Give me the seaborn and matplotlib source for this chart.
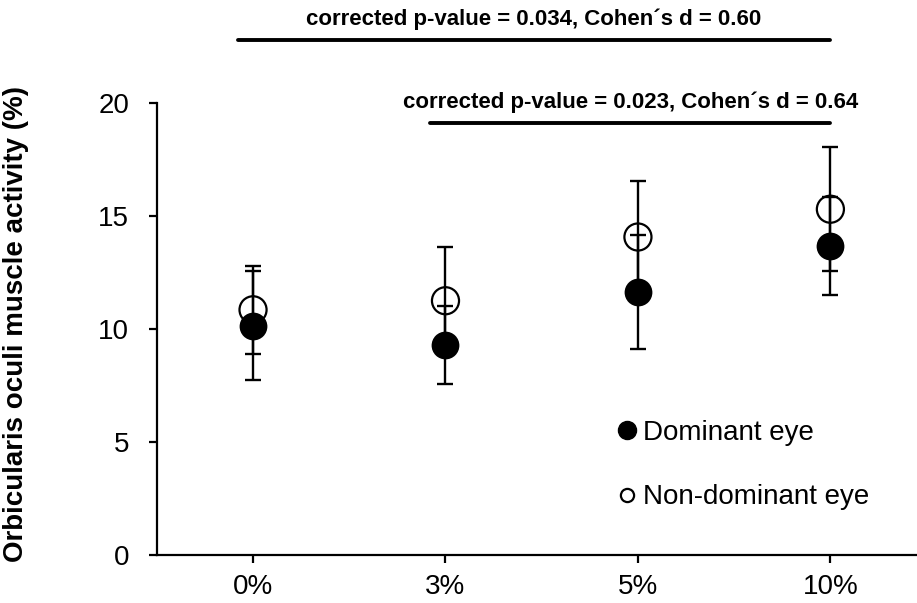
import numpy as np
import pandas as pd
import matplotlib
matplotlib.use("Agg")
import matplotlib.pyplot as plt
from matplotlib.lines import Line2D
import seaborn as sns

# values
conditions = ["0%", "3%", "5%", "10%"]
dominant_mean = [10.15, 9.3, 11.65, 13.67]
dominant_sd = [2.4, 1.72, 2.53, 2.15]
nondominant_mean = [10.85, 11.25, 14.07, 15.3]
nondominant_sd = [1.95, 2.4, 2.48, 2.75]

comparisons = [
    ("0%", "10%", 22.8, "corrected p-value = 0.034, Cohen\u00b4s d = 0.60"),
    ("3%", "10%", 19.1, "corrected p-value = 0.023, Cohen\u00b4s d = 0.64"),
]

sns.set_style("ticks")
plt.rcParams["font.family"] = ["Liberation Sans", "DejaVu Sans"]
plt.rcParams["text.color"] = "black"
plt.rcParams["axes.labelcolor"] = "black"

dom = pd.DataFrame({"condition": conditions, "mean": dominant_mean, "sd": dominant_sd})
nondom = pd.DataFrame({"condition": conditions, "mean": nondominant_mean, "sd": nondominant_sd})

fig = plt.figure(figsize=(9.17, 6.03), dpi=100)
ax = fig.add_axes([0.171, 0.0796, 0.829, 0.7496])

xpos = np.arange(len(conditions))

# open circles first, then error bars, then filled circles on top
sns.scatterplot(data=nondom, x="condition", y="mean", ax=ax, s=380, marker="o",
                facecolor="none", edgecolor="black", linewidth=1.6, zorder=2)
ax.errorbar(xpos, nondom["mean"], yerr=nondom["sd"], fmt="none", ecolor="black",
            elinewidth=1.7, capsize=6, capthick=1.7, zorder=3)
ax.errorbar(xpos, dom["mean"], yerr=dom["sd"], fmt="none", ecolor="black",
            elinewidth=1.7, capsize=6, capthick=1.7, zorder=3)
sns.scatterplot(data=dom, x="condition", y="mean", ax=ax, s=400, marker="o",
                color="black", edgecolor="black", linewidth=0, zorder=4)

ax.set_xlim(-0.5, 3.45)
ax.set_ylim(0, 20)
ax.set_yticks([0, 5, 10, 15, 20])
ax.set_xticks(xpos)
ax.set_xticklabels(conditions)
ax.tick_params(axis="both", labelsize=20, length=6, width=1.6, direction="out", colors="black")
ax.tick_params(axis="x", pad=8)
ax.tick_params(axis="y", pad=14)
ax.set_xlabel("")
ax.set_ylabel("Orbicularis oculi muscle activity (%)", fontsize=20, fontweight="bold")
ax.yaxis.set_label_coords(-0.168, 0.51)
sns.despine(ax=ax)
for side in ["left", "bottom"]:
    ax.spines[side].set_linewidth(1.6)
    ax.spines[side].set_color("black")

# significance brackets above the plot
for start, end, level, label in comparisons:
    x0 = conditions.index(start) - 0.08
    x1 = conditions.index(end)
    ax.plot([x0, x1], [level, level], color="black", linewidth=2.8, clip_on=False)
    ax.text((x0 + x1) / 2, level + 0.45, label, ha="center", va="bottom",
            fontsize=16, fontweight="bold", color="black", clip_on=False)

handles = [
    Line2D([], [], marker="o", linestyle="none", markersize=13, markerfacecolor="black",
           markeredgecolor="black"),
    Line2D([], [], marker="o", linestyle="none", markersize=9.5, markerfacecolor="none",
           markeredgecolor="black", markeredgewidth=1.6),
]
leg = ax.legend(handles, ["Dominant eye", "Non-dominant eye"], loc="upper left",
                bbox_to_anchor=(0.568, 0.355), frameon=False, fontsize=20,
                handletextpad=0.05, labelspacing=1.4, handlelength=1.0)
for t in leg.get_texts():
    t.set_color("black")

fig.savefig("out.png", dpi=100)
